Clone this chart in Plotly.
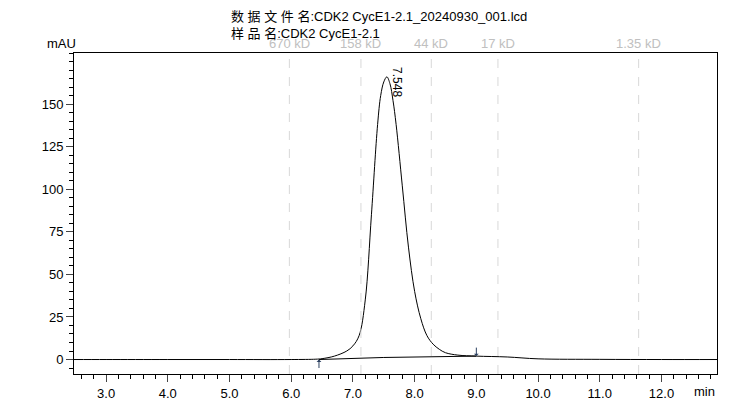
import plotly.graph_objects as go

time = [2.48, 3.0, 4.0, 5.0, 6.0, 6.4, 6.5, 6.7, 6.9, 7.0, 7.1, 7.2, 7.3, 7.4, 7.45, 7.5, 7.55, 7.6, 7.65, 7.7, 7.8, 7.9, 8.0, 8.1, 8.2, 8.3, 8.4, 8.5, 8.7, 9.0, 9.5, 10.0, 11.0, 12.0, 12.9]
signal = [0, 0, 0, 0, 0, 0.2, 0.5, 2, 5, 8, 14, 35, 85, 138, 155, 163, 166, 162, 152, 138, 102, 66, 40, 24, 14, 9, 6, 4, 2.6, 2, 1.5, 0.4, 0.1, 0, 0]
base_t = [6.45, 7.5, 9.0]
base_y = [0, 1.2, 2]
markers = [5.97, 7.13, 8.27, 9.35, 11.63]
marker_labels = ["670 kD", "158 kD", "44 kD", "17 kD", "1.35 kD"]
peak_t, peak_y, peak_label = 7.548, 166, "7.548"

fig = go.Figure()
fig.add_trace(go.Scatter(x=time, y=signal, mode="lines", line=dict(color="black", width=1, shape="spline")))
fig.add_trace(go.Scatter(x=base_t, y=base_y, mode="lines", line=dict(color="black", width=1)))
for m, l in zip(markers, marker_labels):
    fig.add_vline(x=m, line=dict(color="#d8d8d8", width=1, dash="dash"))
    fig.add_annotation(x=m, y=1, yref="paper", text=l, showarrow=False, yanchor="bottom",
                       font=dict(color="#c0c0c0", size=13))
fig.add_annotation(x=peak_t, y=peak_y, text=peak_label, textangle=90, showarrow=False,
                   xanchor="left", yanchor="top", xshift=1, yshift=12, font=dict(size=12, color="black"))
fig.add_annotation(x=6.45, y=0, ax=0, ay=10, text="", showarrow=True, arrowhead=1, arrowsize=0.8, arrowwidth=1)
fig.add_annotation(x=9.0, y=2, ax=0, ay=-10, text="", showarrow=True, arrowhead=1, arrowsize=0.8, arrowwidth=1)
fig.add_annotation(x=0, y=1, xref="paper", yref="paper", text="数 据 文 件 名:CDK2 CycE1-2.1_20240930_001.lcd<br>样 品 名:CDK2 CycE1-2.1",
                   showarrow=False, xanchor="left", yanchor="bottom", align="left", xshift=155, yshift=10,
                   font=dict(size=13, color="black"))
fig.add_annotation(x=0, y=1, xref="paper", yref="paper", text="mAU", showarrow=False, xanchor="right", yanchor="bottom", xshift=4, font=dict(size=13))
fig.add_annotation(x=1, y=0, xref="paper", yref="paper", text="min", showarrow=False, xanchor="right", yanchor="top", yshift=-8, font=dict(size=13))

fig.update_layout(width=742, height=405, margin=dict(l=66, r=33, t=45, b=27),
                  plot_bgcolor="white", paper_bgcolor="white", showlegend=False,
                  font=dict(family="Liberation Sans, Noto Sans CJK SC, Arial", size=13, color="black"))
fig.update_xaxes(range=[2.48, 12.9], tickvals=[3,4,5,6,7,8,9,10,11,12],
                 ticktext=["3.0","4.0","5.0","6.0","7.0","8.0","9.0","10.0","11.0","12.0"],
                 ticks="outside", ticklen=7, showgrid=False, zeroline=False,
                 showline=True, linecolor="black", mirror=True,
                 minor=dict(dtick=0.2, ticks="outside", ticklen=4, tickcolor="black"))
fig.update_yaxes(range=[-8.5, 180], tickvals=[0,25,50,75,100,125,150], ticks="outside", ticklen=7,
                 showgrid=False, zeroline=False, showline=True, linecolor="black", mirror=True,
                 minor=dict(dtick=5, ticks="outside", ticklen=4, tickcolor="black"))
fig.write_html("out.html")
